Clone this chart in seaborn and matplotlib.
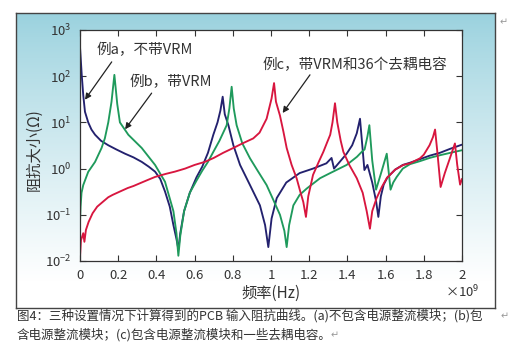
import numpy as np
import pandas as pd
import matplotlib
matplotlib.use("Agg")
import matplotlib.pyplot as plt
import seaborn as sns
from matplotlib.ticker import FixedLocator, NullLocator

# ---------------- data (frequency in units of 1e9 Hz, impedance in ohm) ----------------
freq_a = [0.0, 0.009, 0.017, 0.026, 0.043, 0.06, 0.079, 0.11, 0.148, 0.19, 0.236, 0.28, 0.323,
          0.36, 0.393, 0.42, 0.445, 0.47, 0.489, 0.505, 0.515, 0.525, 0.545, 0.575, 0.61, 0.64,
          0.67, 0.698, 0.72, 0.735, 0.747, 0.758, 0.777, 0.803, 0.838, 0.89, 0.942, 0.969, 0.986,
          1.003, 1.03, 1.08, 1.15, 1.22, 1.29, 1.317, 1.33, 1.36, 1.396, 1.425, 1.449, 1.466,
          1.489, 1.505, 1.53, 1.55, 1.562, 1.575, 1.59, 1.61, 1.65, 1.69, 1.73, 1.78, 1.83,
          1.885, 1.94, 2.0]
imp_a = [430, 107, 39, 17, 10, 7, 5.4, 4.0, 3.2, 2.6, 2.1, 1.75, 1.4,
         1.1, 0.86, 0.6, 0.32, 0.15, 0.06, 0.03, 0.018, 0.04, 0.12, 0.3, 0.65, 1.1,
         2.2, 5.4, 10, 18, 36, 15, 8.7, 3.2, 1.2, 0.44, 0.16, 0.06, 0.02,
         0.083, 0.23, 0.5, 0.8, 1.0, 1.3, 1.7, 1.0, 1.4, 2.1, 3.2, 5.8, 12,
         0.93, 1.2, 0.5, 0.2, 0.09, 0.25, 0.45, 0.65, 0.95, 1.2, 1.35, 1.6, 1.9,
         2.2, 2.7, 3.3]

freq_b = [0.0, 0.003, 0.008, 0.017, 0.043, 0.079, 0.113, 0.13, 0.148, 0.165, 0.18, 0.195,
          0.209, 0.253, 0.323, 0.393, 0.445, 0.489, 0.505, 0.515, 0.525, 0.545, 0.575, 0.61,
          0.64, 0.67, 0.698, 0.73, 0.768, 0.782, 0.794, 0.805, 0.82, 0.85, 0.89, 0.93, 0.977,
          1.01, 1.047, 1.07, 1.082, 1.095, 1.117, 1.15, 1.187, 1.257, 1.31, 1.396, 1.45, 1.475,
          1.49, 1.505, 1.515, 1.53, 1.55, 1.58, 1.606, 1.626, 1.64, 1.658, 1.69, 1.728, 1.78,
          1.83, 1.885, 1.94, 2.0]
imp_b = [0.07, 0.15, 0.3, 0.44, 0.85, 1.4, 2.8, 4.5, 10, 28, 107, 25,
         10, 5.4, 2.8, 1.2, 0.52, 0.12, 0.04, 0.013, 0.035, 0.12, 0.3, 0.55,
         0.9, 1.4, 2.3, 4.0, 8.7, 20, 59, 20, 8.7, 3.5, 1.67, 0.9, 0.44,
         0.22, 0.1, 0.045, 0.02, 0.06, 0.16, 0.27, 0.37, 0.62, 0.8, 1.2, 1.8, 2.3,
         2.6, 5.0, 8.7, 1.5, 0.35, 0.9, 2.1, 0.35, 0.5, 0.66, 1.0, 1.25, 1.45,
         1.7, 1.95, 2.2, 2.5]

freq_c = [0.0, 0.005, 0.017, 0.023, 0.031, 0.045, 0.066, 0.09, 0.119, 0.148, 0.171, 0.21,
          0.25, 0.28, 0.323, 0.36, 0.393, 0.45, 0.497, 0.55, 0.6, 0.654, 0.7, 0.75, 0.803,
          0.85, 0.907, 0.94, 0.977, 1.003, 1.016, 1.026, 1.047, 1.065, 1.082, 1.108, 1.134,
          1.155, 1.169, 1.183, 1.195, 1.22, 1.25, 1.274, 1.295, 1.31, 1.322, 1.335, 1.347,
          1.365, 1.379, 1.41, 1.449, 1.48, 1.501, 1.518, 1.53, 1.553, 1.58, 1.606, 1.65,
          1.693, 1.728, 1.78, 1.80, 1.83, 1.848, 1.859, 1.87, 1.888, 1.91, 1.935, 1.963,
          1.975, 1.99, 2.0]
imp_c = [0.012, 0.028, 0.04, 0.026, 0.047, 0.07, 0.108, 0.15, 0.19, 0.24, 0.27, 0.32,
         0.38, 0.42, 0.5, 0.58, 0.66, 0.77, 0.86, 1.0, 1.2, 1.4, 1.7, 2.2, 2.8,
         3.5, 4.5, 6.0, 12, 33, 71, 28, 14, 6.3, 2.8, 1.2, 0.62,
         0.3, 0.19, 0.09, 0.25, 0.73, 1.4, 2.3, 3.8, 5.4, 10, 26, 10,
         4.0, 2.3, 1.2, 0.62, 0.3, 0.12, 0.05, 0.12, 0.23, 0.4, 0.62, 0.95,
         1.2, 1.3, 1.67, 2.0, 3.2, 4.8, 7.0, 2.5, 0.4, 0.8, 1.6, 3.5,
         1.2, 0.45, 0.6]

case_names = ["a", "b", "c"]
case_colors = ["#23216e", "#1f9a5c", "#d8163f"]

x_ticks = [0, 0.2, 0.4, 0.6, 0.8, 1.0, 1.2, 1.4, 1.6, 1.8, 2.0]
x_tick_labels = ["0", "0.2", "0.4", "0.6", "0.8", "1", "1.2", "1.4", "1.6", "1.8", "2"]
y_ticks = [1e-2, 1e-1, 1e0, 1e1, 1e2, 1e3]
y_tick_labels = [r"$\mathregular{10^{-2}}$", r"$\mathregular{10^{-1}}$", r"$\mathregular{10^{0}}$",
                 r"$\mathregular{10^{1}}$", r"$\mathregular{10^{2}}$", r"$\mathregular{10^{3}}$"]

label_a = "例a，不带VRM"
label_b = "例b，带VRM"
label_c = "例c，带VRM和36个去耦电容"
x_label = "频率(Hz)"
y_label = "阻抗大小(Ω)"
caption_1 = "图4：三种设置情况下计算得到的PCB 输入阻抗曲线。(a)不包含电源整流模块；(b)包"
caption_2 = "含电源整流模块；(c)包含电源整流模块和一些去耦电容。"

# ---------------- build long-form table ----------------
df = pd.concat([
    pd.DataFrame({"freq": freq_a, "Z": imp_a, "case": "a"}),
    pd.DataFrame({"freq": freq_b, "Z": imp_b, "case": "b"}),
    pd.DataFrame({"freq": freq_c, "Z": imp_c, "case": "c"}),
], ignore_index=True)

sns.set_style("ticks")
plt.rcParams["font.family"] = ["Noto Sans CJK SC", "DejaVu Sans"]
plt.rcParams["mathtext.default"] = "regular"

W, H = 520, 360
fig = plt.figure(figsize=(W / 100, H / 100), dpi=100)
fig.patch.set_facecolor("white")

def fx(px):
    return px / W

def fy(py):
    return 1 - py / H

# gradient panel
bg = fig.add_axes([fx(16), fy(308), fx(495 - 16), (308 - 13) / H], zorder=0)
t = np.linspace(0, 1, 256)[:, None]
top = np.array([0.60, 0.82, 0.87])
bot = np.array([1.0, 1.0, 1.0])
w = np.clip(t * 1.1, 0, 1) ** 0.85
grad = top[None, None, :] * (1 - w[..., None]) + bot[None, None, :] * w[..., None]
grad = np.repeat(grad, 4, axis=1)
bg.imshow(grad, aspect="auto", extent=[0, 1, 0, 1], origin="upper")
bg.set_xticks([])
bg.set_yticks([])
for s in bg.spines.values():
    s.set_color("#444444")
    s.set_linewidth(1.0)

# main axes
ax = fig.add_axes([fx(80), fy(261), fx(462 - 80), (261 - 30) / H], zorder=2)
ax.set_facecolor("white")
sns.lineplot(data=df, x="freq", y="Z", hue="case", hue_order=case_names,
             palette=case_colors, estimator=None, sort=False, legend=False,
             linewidth=1.35, ax=ax)
ax.set_yscale("log")
ax.set_xlim(0, 2)
ax.set_ylim(1e-2, 1e3)
ax.xaxis.set_major_locator(FixedLocator(x_ticks))
ax.set_xticklabels(x_tick_labels)
ax.yaxis.set_major_locator(FixedLocator(y_ticks))
ax.yaxis.set_minor_locator(NullLocator())
ax.set_yticklabels(y_tick_labels)
ax.tick_params(axis="both", which="major", direction="in", length=4, width=0.8,
               top=True, right=True, labelsize=9.5, labelcolor="#333333", color="#333333", pad=6)
ax.set_xlabel("")
ax.set_ylabel("")
for s in ax.spines.values():
    s.set_color("#333333")
    s.set_linewidth(0.9)

# annotations
arrow = dict(arrowstyle="-|>", color="#222222", lw=0.9, mutation_scale=9, shrinkA=0, shrinkB=0)
ax.annotate("", xy=(0.026, 31), xytext=(0.166, 204), arrowprops=arrow)
ax.annotate("", xy=(0.236, 7.1), xytext=(0.375, 43), arrowprops=arrow)
ax.annotate("", xy=(1.061, 16), xytext=(1.204, 107), arrowprops=arrow)
ax.text(0.34, 370, label_a, ha="center", va="center", fontsize=10.5, color="#333333")
ax.text(0.476, 74, label_b, ha="center", va="center", fontsize=10.5, color="#333333")
ax.text(1.44, 174, label_c, ha="center", va="center", fontsize=10.5, color="#333333")

# axis labels
fig.text(fx(34), fy(150), y_label, rotation=90, ha="center", va="center", fontsize=11, color="#333333")
fig.text(fx(271), fy(293), x_label, ha="center", va="center", fontsize=11, color="#333333")
fig.text(fx(462), fy(292), r"$\mathregular{\times10^{9}}$", ha="center", va="center",
         fontsize=9.5, color="#333333")

# caption
fig.text(fx(17), fy(316), caption_1, ha="left", va="center", fontsize=9, color="#333333",
         style="italic")
fig.text(fx(17), fy(335), caption_2, ha="left", va="center", fontsize=9, color="#333333",
         style="italic")
fig.text(fx(505), fy(316), "↵", ha="center", va="center", fontsize=7, color="#999999",
         family=["DejaVu Sans"])
fig.text(fx(335), fy(335), "↵", ha="center", va="center", fontsize=7, color="#999999",
         family=["DejaVu Sans"])
fig.text(fx(504), fy(22), "↵", ha="center", va="center", fontsize=7, color="#999999",
         family=["DejaVu Sans"])

fig.savefig("out.png", dpi=100)
